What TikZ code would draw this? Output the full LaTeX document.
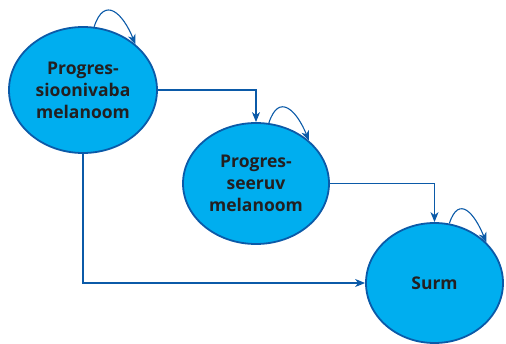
\documentclass[tikz,border=0pt]{standalone}
\usepackage{fontspec}
\setmainfont{Open Sans}
\usetikzlibrary{shapes.geometric,arrows.meta}

\definecolor{statefill}{HTML}{00AEEF}
\definecolor{stateline}{HTML}{0B5AA8}
\definecolor{textgray}{HTML}{231F20}

\tikzset{
  state/.style={ellipse, draw=stateline, fill=statefill, line width=1.8pt,
    inner sep=0pt, align=center, text=textgray,
    font=\fontsize{17.5}{22}\selectfont\bfseries},
  link/.style={draw=stateline, line width=1.1pt,
    -{Stealth[length=10pt,width=8pt,inset=3pt]}},
}

\begin{document}
\begin{tikzpicture}[x=1pt,y=-1pt]
    \useasboundingbox (0,0) rectangle (506,343);

      \node[state, minimum width=148pt, minimum height=126pt] (pv) at (83,90)
        {Progres-\\sioonivaba\\melanoom};
      \node[state, minimum width=146pt, minimum height=121pt] (ps) at (256,183.5)
        {Progres-\\seeruv\\melanoom};
      \node[state, minimum width=137pt, minimum height=120pt] (su) at (434.5,283)
        {Surm};

      % transitions
      \draw[link] (pv.east) -| (ps.north);
      \draw[link] (ps.east) -| (su.north);
      \draw[link] (pv.south) |- (su.west);

      % self loops
      \draw[link] (pv.80) to[out=72, in=112, looseness=1.9] (pv.41);
      \draw[link] (ps.78) to[out=72, in=112, looseness=1.9] (ps.39);
      \draw[link] (su.76) to[out=72, in=112, looseness=1.9] (su.38);
  \end{tikzpicture}
\end{document}
